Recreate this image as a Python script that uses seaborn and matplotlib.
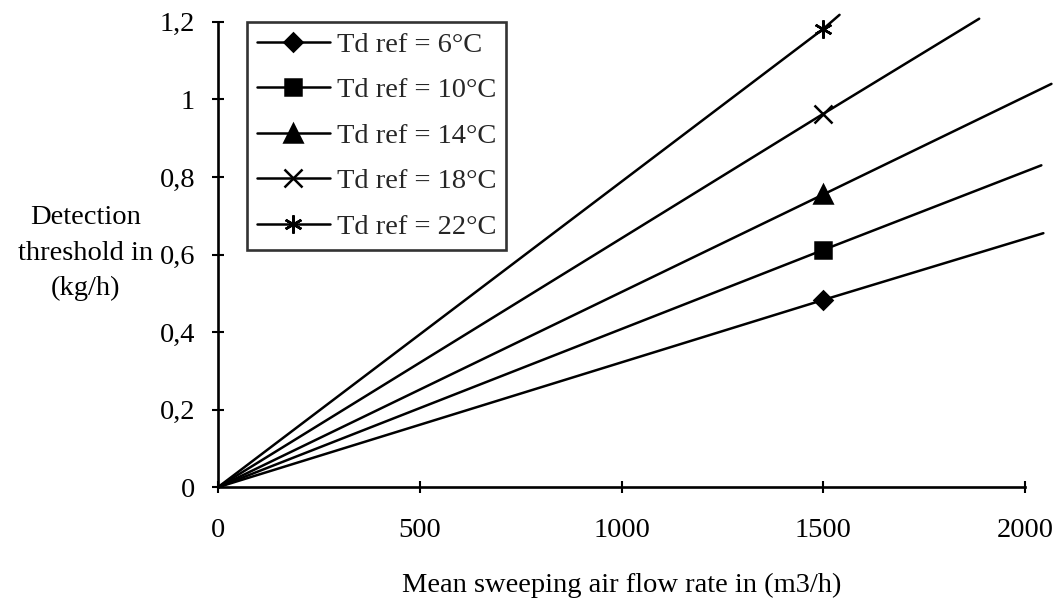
import numpy as np
import pandas as pd
import matplotlib
matplotlib.use("Agg")
import matplotlib.pyplot as plt
import seaborn as sns

# ---- data ----
series_labels = ["Td ref = 6°C", "Td ref = 10°C", "Td ref = 14°C", "Td ref = 18°C", "Td ref = 22°C"]
x_start = [0, 0, 0, 0, 0]
x_mark = [1500, 1500, 1500, 1500, 1500]
y_mark = [0.483, 0.612, 0.755, 0.963, 1.182]
x_end = [2045, 2040, 2065, 1886, 1540]
y_end = [0.655, 0.830, 1.040, 1.208, 1.218]
markers = ["D", "s", "^", "x", (6, 2, 0)]
marker_sizes = [9, 12, 12.5, 13.5, 13]

x_ticks = [0, 500, 1000, 1500, 2000]
x_ticklabels = ["0", "500", "1000", "1500", "2000"]
y_ticks = [0, 0.2, 0.4, 0.6, 0.8, 1.0, 1.2]
y_ticklabels = ["0", "0,2", "0,4", "0,6", "0,8", "1", "1,2"]

rows = []
for lab, x0, xm, ym, xe, ye in zip(series_labels, x_start, x_mark, y_mark, x_end, y_end):
    rows += [(lab, x0, 0.0), (lab, xm, ym), (lab, xe, ye)]
df = pd.DataFrame(rows, columns=["series", "flow", "threshold"])

sns.set_theme(style="white")
plt.rcParams["font.family"] = ["Liberation Serif", "DejaVu Serif"]

FS = 20.5

fig = plt.figure(figsize=(10.58, 6.06), dpi=100)
ax = fig.add_axes([0.206, 0.196, 0.763, 0.768])

for lab, mk, ms in zip(series_labels, markers, marker_sizes):
    sub = df[df["series"] == lab]
    sns.lineplot(data=sub, x="flow", y="threshold", ax=ax, color="black",
                 linewidth=1.8, marker=mk, markersize=ms, markevery=[1],
                 markeredgecolor="black", markerfacecolor="black",
                 markeredgewidth=1.8, label=lab, clip_on=False, sort=False,
                 estimator=None)

ax.set_xlim(0, 2000)
ax.set_ylim(0, 1.2)
ax.set_xticks(x_ticks)
ax.set_xticklabels(x_ticklabels)
ax.set_yticks(y_ticks)
ax.set_yticklabels(y_ticklabels)

for s in ["top", "right"]:
    ax.spines[s].set_visible(False)
for s in ["left", "bottom"]:
    ax.spines[s].set_color("black")
    ax.spines[s].set_linewidth(1.9)

ax.tick_params(axis="both", which="major", bottom=True, left=True,
               direction="inout", length=9, width=1.5,
               color="black", labelsize=FS, labelcolor="black")
ax.tick_params(axis="x", pad=18)
ax.tick_params(axis="y", pad=12)

ax.set_xlabel("Mean sweeping air flow rate in (m3/h)", fontsize=FS, labelpad=21, color="black")
ax.set_ylabel("Detection\nthreshold in\n(kg/h)", fontsize=FS, rotation=0,
              ha="center", va="center", color="black", linespacing=1.55)
ax.yaxis.set_label_coords(-0.164, 0.503)

leg = ax.legend(loc="upper left", bbox_to_anchor=(0.036, 1.0), borderaxespad=0,
                frameon=True, fancybox=False, edgecolor="black", fontsize=FS,
                handlelength=2.56, handletextpad=0.25, labelspacing=0.69,
                borderpad=0.35)
leg.get_frame().set_linewidth(1.9)

fig.savefig("out.png", dpi=100, facecolor="white")
